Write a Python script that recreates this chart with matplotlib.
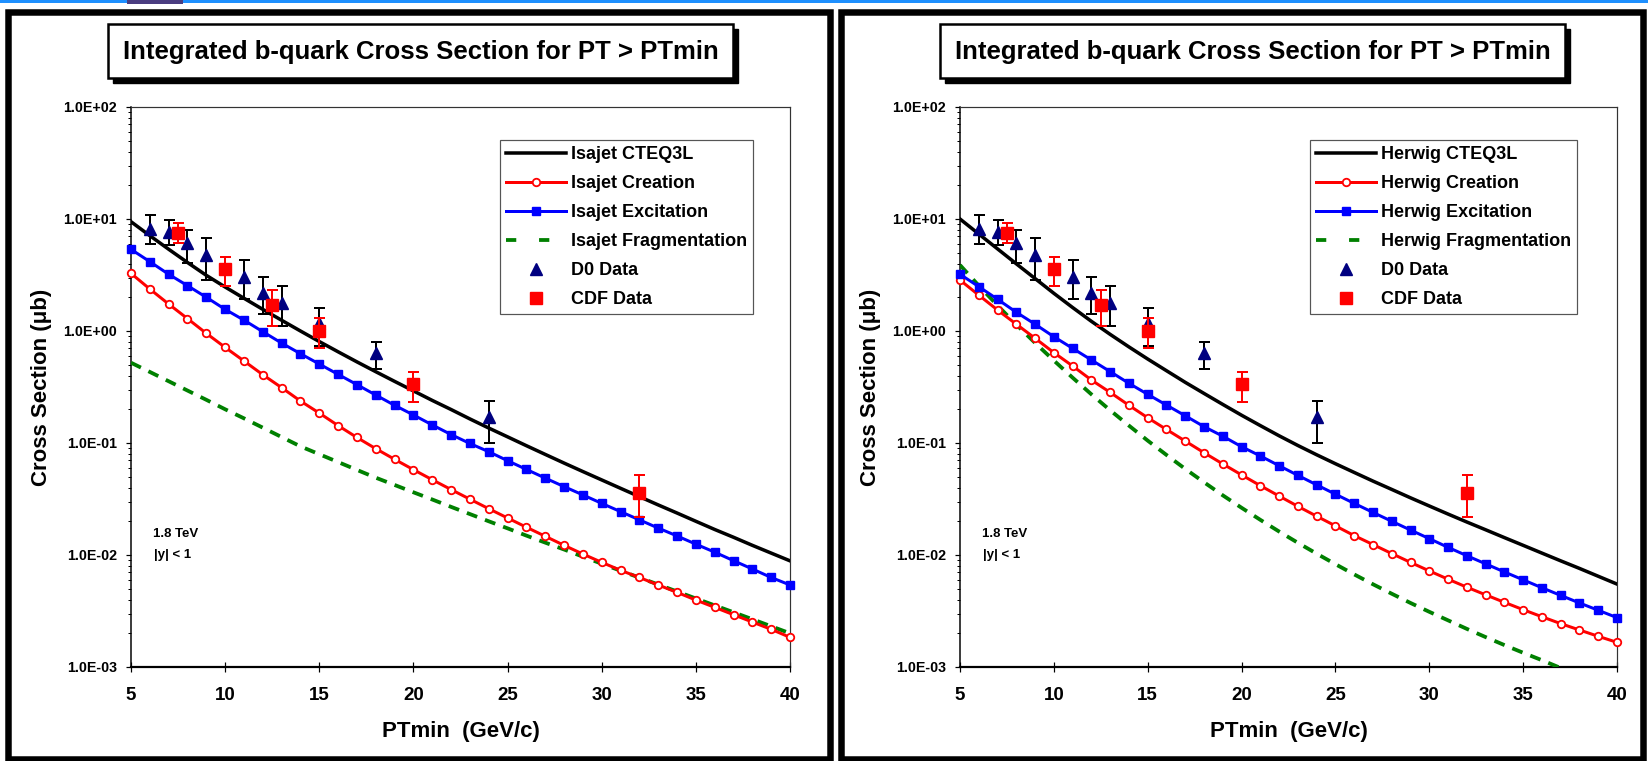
import numpy as np
import matplotlib
matplotlib.use("Agg")
import matplotlib.pyplot as plt
from matplotlib.lines import Line2D
from matplotlib.patches import Rectangle
from matplotlib.ticker import LogLocator, FuncFormatter, NullFormatter

plt.rcParams['font.family'] = ['Liberation Sans', 'DejaVu Sans']
plt.rcParams['font.weight'] = 'bold'
plt.rcParams['axes.labelweight'] = 'bold'

W, H, DPI = 1648, 761, 100

# ---------------- data ----------------
pt_min = list(range(5, 41))

isajet_total = [9.46, 7.10, 5.37, 4.09, 3.14, 2.47, 1.96, 1.56, 1.247, 1.00,
                0.805, 0.652, 0.530, 0.433, 0.355, 0.292, 0.240, 0.199, 0.164, 0.136,
                0.1135, 0.0946, 0.0791, 0.0662, 0.0556, 0.0468, 0.0394, 0.0332, 0.0280, 0.0237,
                0.0200, 0.0169, 0.0144, 0.0122, 0.0104, 0.00887]
isajet_creation = [3.27, 2.37, 1.74, 1.29, 0.953, 0.714, 0.54, 0.407, 0.312, 0.237,
                   0.185, 0.143, 0.112, 0.089, 0.0715, 0.0578, 0.0470, 0.0384, 0.0315, 0.0259,
                   0.0214, 0.0177, 0.0147, 0.0122, 0.0102, 0.0086, 0.0073, 0.0063, 0.0054, 0.00464,
                   0.00396, 0.00341, 0.00293, 0.00252, 0.00217, 0.00184]
isajet_excitation = [5.36, 4.16, 3.21, 2.54, 2.00, 1.56, 1.25, 0.986, 0.78, 0.627,
                     0.507, 0.41, 0.332, 0.268, 0.217, 0.178, 0.145, 0.119, 0.099, 0.0836,
                     0.0695, 0.0581, 0.0486, 0.0408, 0.0344, 0.0289, 0.0244, 0.0206, 0.0174, 0.0148,
                     0.0125, 0.0106, 0.0089, 0.0075, 0.0063, 0.0054]
isajet_fragmentation = [0.521, 0.431, 0.356, 0.294, 0.243, 0.200, 0.166, 0.137, 0.113, 0.0933,
                        0.0794, 0.0676, 0.0575, 0.0490, 0.0422, 0.0363, 0.0313, 0.0269, 0.0232, 0.0200,
                        0.0173, 0.0149, 0.0129, 0.0112, 0.00966, 0.00836, 0.00724, 0.00628, 0.00545, 0.00472,
                        0.00409, 0.00355, 0.00308, 0.00267, 0.00231, 0.00200]

herwig_total = [10.0, 7.35, 5.41, 3.98, 2.94, 2.17, 1.62, 1.22, 0.933, 0.721,
                0.562, 0.442, 0.348, 0.277, 0.221, 0.177, 0.143, 0.116, 0.095, 0.0785,
                0.0653, 0.0546, 0.0457, 0.0385, 0.0324, 0.0274, 0.0232, 0.0197, 0.0168, 0.0143,
                0.0122, 0.0104, 0.00887, 0.00759, 0.00646, 0.0055]
herwig_creation = [2.85, 2.09, 1.54, 1.15, 0.861, 0.641, 0.487, 0.365, 0.283, 0.217,
                   0.168, 0.132, 0.104, 0.0819, 0.065, 0.0519, 0.0416, 0.0336, 0.0272, 0.0222,
                   0.0182, 0.0149, 0.0124, 0.0103, 0.00859, 0.00721, 0.00608, 0.00516, 0.00441, 0.00378,
                   0.00325, 0.00281, 0.00244, 0.00214, 0.00188, 0.00166]
herwig_excitation = [3.21, 2.49, 1.92, 1.47, 1.15, 0.889, 0.70, 0.551, 0.434, 0.341,
                     0.272, 0.218, 0.175, 0.14, 0.115, 0.0927, 0.0766, 0.0627, 0.0514, 0.0423,
                     0.0349, 0.0289, 0.024, 0.020, 0.0167, 0.014, 0.0117, 0.00986, 0.00834, 0.00706,
                     0.006, 0.0051, 0.00436, 0.00373, 0.00321, 0.00276]
herwig_fragmentation = [3.88, 2.54, 1.69, 1.14, 0.783, 0.545, 0.383, 0.272, 0.196, 0.143,
                        0.105, 0.0782, 0.0587, 0.0446, 0.0341, 0.0264, 0.0206, 0.0162, 0.01285, 0.01028,
                        0.00828, 0.00671, 0.00548, 0.00451, 0.00373, 0.00311, 0.00261, 0.00219, 0.00185, 0.00157,
                        0.00134, 0.00115, 0.00098, 0.00085, 0.00073, 0.00063]

d0_pt = [6, 7, 8, 9, 11, 12, 13, 15, 18, 24]
d0_sigma = [8.1, 7.7, 6.07, 4.77, 3.05, 2.17, 1.79, 1.17, 0.632, 0.172]
d0_upper = [10.9, 9.8, 7.98, 6.8, 4.3, 3.01, 2.52, 1.61, 0.80, 0.239]
d0_lower = [5.94, 5.86, 4.02, 2.85, 1.93, 1.41, 1.11, 0.74, 0.458, 0.099]

cdf_pt = [7.5, 10, 12.5, 15, 20, 32]
cdf_sigma = [7.55, 3.56, 1.71, 1.0, 0.334, 0.036]
cdf_upper = [9.14, 4.55, 2.32, 1.31, 0.43, 0.052]
cdf_lower = [6.07, 2.52, 1.11, 0.71, 0.234, 0.022]

title_text = "Integrated b-quark Cross Section for PT > PTmin"
x_label = "PTmin  (GeV/c)"
y_label = "Cross Section (\u03bcb)"
x_ticks = [5, 10, 15, 20, 25, 30, 35, 40]
energy_note = "1.8 TeV"
rapidity_note = "|y| < 1"

# ---------------- layout helpers ----------------
def fx(px):
    return px / W

def fy(py):
    return 1 - py / H

def pt(px):
    return px * 72.0 / DPI

fig = plt.figure(figsize=(W / DPI, H / DPI), dpi=DPI)
fig.patch.set_facecolor('white')

# top strip of the slide
fig.patches.append(Rectangle((0, fy(3)), 1, 3 / H, transform=fig.transFigure,
                             facecolor='#1E90FF', edgecolor='none', zorder=0))
fig.patches.append(Rectangle((fx(127), fy(4)), 56 / W, 4 / H, transform=fig.transFigure,
                             facecolor='#4a3d80', edgecolor='none', zorder=0))

LW = pt(3.0)
LWK = pt(3.5)
LWG = pt(3.8)


def draw_panel(frame, ax_px, title_px, legend_xy, gen, total, creation, excitation, frag):
    fl, ft, fr, fb = frame
    fig.patches.append(Rectangle((fx(fl), fy(fb)), (fr - fl) / W, (fb - ft) / H,
                                 transform=fig.transFigure, fill=False,
                                 edgecolor='black', linewidth=pt(6.5), zorder=1))
    # title box with shadow
    tl, tt, tr, tb = title_px
    fig.patches.append(Rectangle((fx(tl + 5), fy(tb + 5)), (tr - tl) / W, (tb - tt) / H,
                                 transform=fig.transFigure, facecolor='black',
                                 edgecolor='black', zorder=2))
    fig.patches.append(Rectangle((fx(tl), fy(tb)), (tr - tl) / W, (tb - tt) / H,
                                 transform=fig.transFigure, facecolor='white',
                                 edgecolor='black', linewidth=pt(2.5), zorder=3))
    fig.text(fx((tl + tr) / 2), fy((tt + tb) / 2 + 1), title_text, ha='center', va='center',
             fontsize=18.5, fontweight='bold', zorder=4)

    al, at, ar, ab = ax_px
    ax = fig.add_axes([fx(al), fy(ab), (ar - al) / W, (ab - at) / H])
    ax.set_yscale('log')

    ax.plot(pt_min, total, color='black', lw=LWK, zorder=3, label=f"{gen} CTEQ3L")
    ax.plot(pt_min, creation, color='red', lw=LW, marker='o', ms=pt(7.5), mfc='white',
            mec='red', mew=pt(1.8), zorder=4, clip_on=False, label=f"{gen} Creation")
    ax.plot(pt_min, excitation, color='blue', lw=LW, marker='s', ms=pt(7.5), mfc='blue',
            mec='blue', zorder=4, clip_on=False, label=f"{gen} Excitation")
    ax.plot(pt_min, frag, color='#008000', lw=LWG, dashes=(2.9, 2.2), zorder=3,
            label=f"{gen} Fragmentation")

    d0_s = np.array(d0_sigma)
    ax.errorbar(d0_pt, d0_sigma, yerr=[d0_s - np.array(d0_lower), np.array(d0_upper) - d0_s],
                fmt='none', ecolor='black', elinewidth=pt(2), capsize=pt(5.5), capthick=pt(2),
                zorder=5)
    ax.plot(d0_pt, d0_sigma, ls='none', marker='^', ms=pt(12), color='#000080', zorder=6)
    cdf_s = np.array(cdf_sigma)
    ax.errorbar(cdf_pt, cdf_sigma, yerr=[cdf_s - np.array(cdf_lower), np.array(cdf_upper) - cdf_s],
                fmt='none', ecolor='red', elinewidth=pt(2), capsize=pt(5.5), capthick=pt(2),
                zorder=7)
    ax.plot(cdf_pt, cdf_sigma, ls='none', marker='s', ms=pt(11.5), color='red', zorder=8)

    ax.set_xlim(5, 40)
    ax.set_ylim(1e-3, 1e2)
    ax.set_xticks(x_ticks)
    ax.set_xticklabels([str(t) for t in x_ticks])
    ax.yaxis.set_major_locator(LogLocator(base=10, numticks=10))
    ax.yaxis.set_minor_locator(LogLocator(base=10, subs=np.arange(2, 10), numticks=100))
    ax.yaxis.set_major_formatter(FuncFormatter(lambda v, p: f"{v:.1E}"))
    ax.yaxis.set_minor_formatter(NullFormatter())
    ax.tick_params(axis='x', which='major', direction='inout', length=pt(10), width=pt(1.2),
                   pad=10.8, labelsize=13.5)
    ax.tick_params(axis='y', which='major', direction='out', length=pt(5), width=pt(1.2),
                   pad=pt(9), labelsize=10.3)
    ax.tick_params(axis='y', which='minor', direction='out', length=pt(3), width=pt(1))
    for lab in ax.get_xticklabels() + ax.get_yticklabels():
        lab.set_fontweight('bold')
    ax.spines['left'].set_linewidth(pt(1.5))
    ax.spines['bottom'].set_linewidth(pt(2.2))
    ax.spines['top'].set_linewidth(pt(1.2))
    ax.spines['right'].set_linewidth(pt(1.2))
    ax.spines['top'].set_color('#333333')
    ax.spines['right'].set_color('#333333')

    ax.set_xlabel(x_label, fontsize=16, fontweight='bold', labelpad=12.6)
    ax.set_ylabel(y_label, fontsize=16, fontweight='bold', labelpad=8)

    ax.text(0.068, 0.2375, energy_note, transform=ax.transAxes, ha='center', va='center',
            fontsize=9.5, fontweight='bold')
    ax.text(0.063, 0.20, rapidity_note, transform=ax.transAxes, ha='center', va='center',
            fontsize=9.5, fontweight='bold')

    handles = [
        Line2D([], [], color='black', lw=LWK),
        Line2D([], [], color='red', lw=LW, marker='o', ms=pt(7.5), mfc='white', mec='red',
               mew=pt(1.8)),
        Line2D([], [], color='blue', lw=LW, marker='s', ms=pt(8), mfc='blue', mec='blue'),
        Line2D([], [], color='#008000', lw=LWG, dashes=(2.7, 6.0)),
        Line2D([], [], ls='none', marker='^', ms=pt(12), color='#000080'),
        Line2D([], [], ls='none', marker='s', ms=pt(12), color='red'),
    ]
    labels = [f"{gen} CTEQ3L", f"{gen} Creation", f"{gen} Excitation",
              f"{gen} Fragmentation", "D0 Data", "CDF Data"]
    leg = ax.legend(handles, labels, loc='upper left',
                    bbox_to_anchor=(fx(legend_xy[0]), fy(legend_xy[1])),
                    bbox_transform=fig.transFigure, borderaxespad=0, borderpad=0.33,
                    handlelength=3.3, handletextpad=0.28, labelspacing=0.67, numpoints=1,
                    prop={'size': 13.0, 'weight': 'bold'}, frameon=True, fancybox=False,
                    edgecolor='#555555', framealpha=1)
    leg.get_frame().set_linewidth(pt(1.2))
    leg.set_zorder(10)
    return ax


draw_panel((8, 12, 830, 759), (131, 107, 790, 667), (108, 24, 733, 78), (500, 140), 'Isajet',
           isajet_total, isajet_creation, isajet_excitation, isajet_fragmentation)
draw_panel((841, 12, 1643, 759), (960, 107, 1617, 667), (940, 24, 1565, 78), (1310, 140), 'Herwig',
           herwig_total, herwig_creation, herwig_excitation, herwig_fragmentation)

fig.savefig('out.png', dpi=DPI, facecolor='white')
